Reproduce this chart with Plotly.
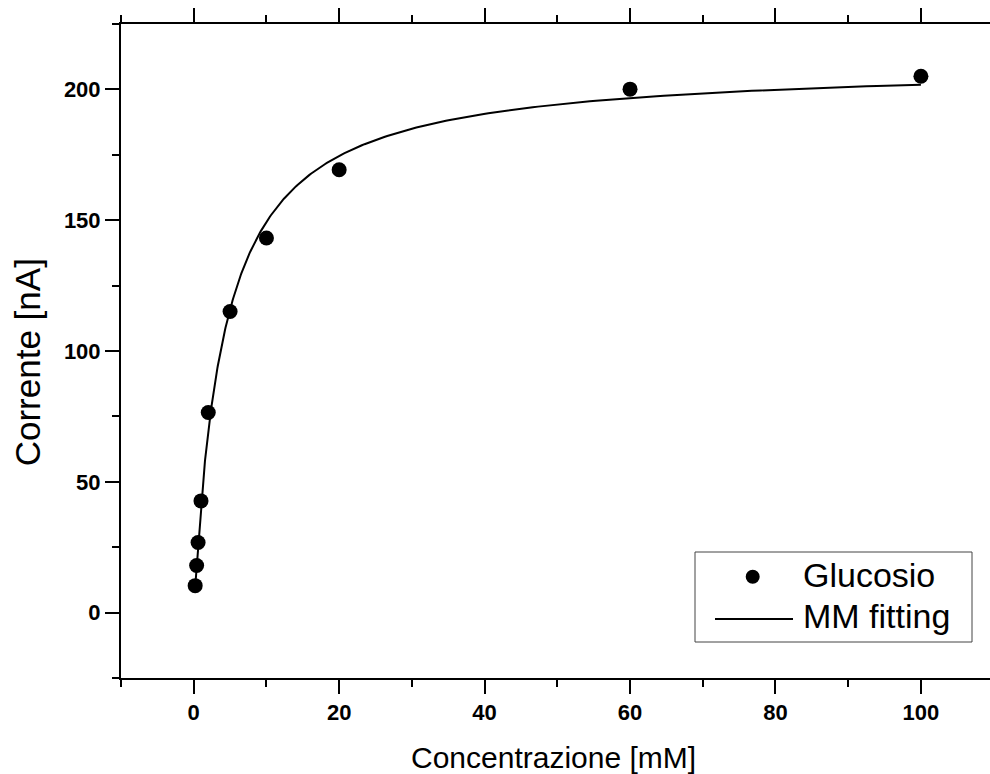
import numpy as np
import plotly.graph_objects as go

# Glucose calibration: measured current vs concentration
conc_mM = [0.2, 0.4, 0.6, 1, 2, 5, 10, 20, 60, 100]
current_nA = [10.3, 18.0, 26.8, 42.7, 76.5, 115.1, 143.2, 169.3, 200.1, 205.0]

# Michaelis-Menten fit parameters
VMAX_NA = 210.0
KM_MM = 4.06

x_ticks = [0, 20, 40, 60, 80, 100]
y_ticks = [0, 50, 100, 150, 200]

# fitted curve evaluated over the measured concentration span
fit_x = np.geomspace(conc_mM[0], conc_mM[-1], 400)
fit_y = VMAX_NA * fit_x / (KM_MM + fit_x)

FONT = "Arial, Liberation Sans, sans-serif"

fig = go.Figure()
fig.add_trace(go.Scatter(
    x=fit_x, y=fit_y, mode="lines", name="MM fitting",
    line=dict(color="black", width=2), showlegend=False,
))
fig.add_trace(go.Scatter(
    x=conc_mM, y=current_nA, mode="markers", name="Glucosio",
    marker=dict(color="black", size=15, line=dict(width=0)), showlegend=False,
))

# plot-area geometry in pixels, used for the hand-drawn legend
L, R, T, B = 121, 990, 24, 678
def px(x):
    return (x - L) / (R - L)
def py(y):
    return (B - y) / (B - T)

axis_common = dict(
    showline=True, linewidth=2, linecolor="black",
    ticks="outside", ticklen=14, tickwidth=2, tickcolor="black",
    showgrid=False, zeroline=False, automargin=False,
    tickfont=dict(family=FONT, size=22, color="black", weight="bold"),
)

fig.update_xaxes(
    range=[-10, 109.5], tickvals=x_ticks, mirror="ticks",
    minor=dict(dtick=10, tick0=0, ticks="outside", ticklen=7, tickwidth=2, tickcolor="black"),
    **axis_common,
)
fig.update_yaxes(
    range=[-25, 225], tickvals=y_ticks, ticksuffix="\u2009",
    minor=dict(dtick=25, tick0=0, ticks="outside", ticklen=7, tickwidth=2, tickcolor="black"),
    **axis_common,
)

shapes = [
    # legend frame
    dict(type="rect", xref="paper", yref="paper",
         x0=px(695), x1=px(972), y0=py(642), y1=py(552),
         line=dict(color="#444444", width=1), fillcolor="white", layer="above"),
    # legend line sample
    dict(type="line", xref="paper", yref="paper",
         x0=px(715), x1=px(793), y0=py(619), y1=py(619),
         line=dict(color="black", width=2), layer="above"),
    # legend marker sample
    dict(type="circle", xref="paper", yref="paper",
         xsizemode="pixel", ysizemode="pixel",
         xanchor=px(752.7), yanchor=py(576.7),
         x0=-7, x1=7, y0=-7, y1=7,
         fillcolor="black", line=dict(width=0), layer="above"),
]

annotations = [
    dict(text="Glucosio", xref="paper", yref="paper", x=px(801), y=py(575.3),
         xanchor="left", yanchor="middle", showarrow=False,
         font=dict(family=FONT, size=34, color="black")),
    dict(text="MM fitting", xref="paper", yref="paper", x=px(801), y=py(615.9),
         xanchor="left", yanchor="middle", showarrow=False,
         font=dict(family=FONT, size=34, color="black")),
    dict(text="Concentrazione [mM]", xref="paper", yref="paper", x=px(553), y=py(757.5),
         xanchor="center", yanchor="middle", showarrow=False,
         font=dict(family=FONT, size=30, color="black")),
    dict(text="Corrente [nA]", xref="paper", yref="paper", x=px(28.3), y=py(362),
         xanchor="center", yanchor="middle", textangle=-90, showarrow=False,
         font=dict(family=FONT, size=35, color="black")),
]

fig.update_layout(
    width=990, height=774,
    margin=dict(l=L, r=990 - R, t=T, b=774 - B, pad=0, autoexpand=False),
    paper_bgcolor="white", plot_bgcolor="white",
    shapes=shapes, annotations=annotations,
    showlegend=False,
)

fig.write_html("out.html")
